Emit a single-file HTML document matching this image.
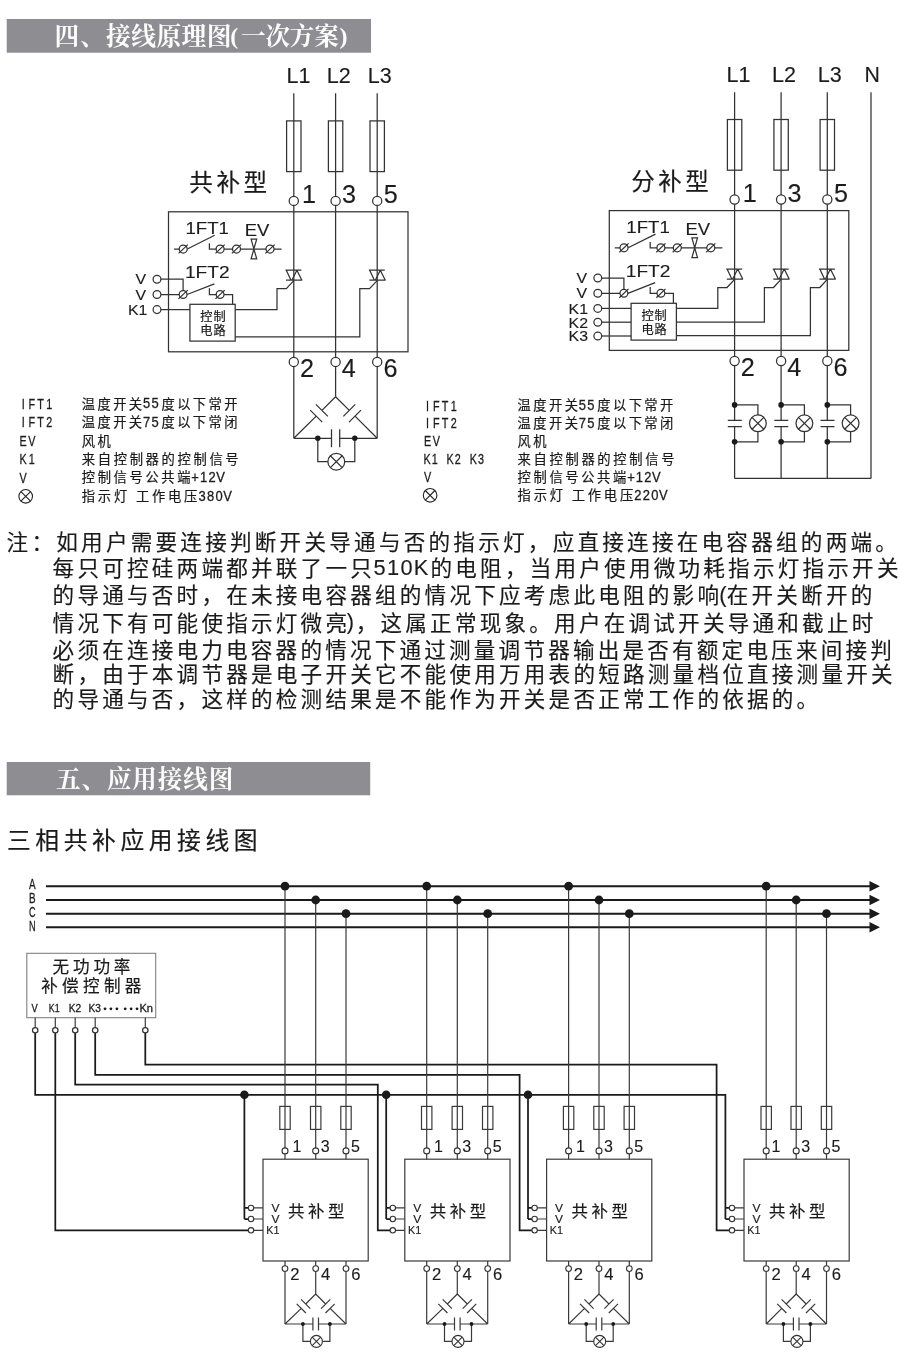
<!DOCTYPE html>
<html lang="zh-CN"><head><meta charset="utf-8"><title>接线原理图与应用接线图</title>
<style>
html,body{margin:0;padding:0;background:#fff}
body{width:900px;height:1361px;overflow:hidden;font-family:"Liberation Sans",sans-serif}
svg{display:block;will-change:transform}
text{font-family:"Liberation Sans",sans-serif}
.t{fill:#1c1c1c;stroke:#1c1c1c;stroke-width:.14}
.tb{fill:#1c1c1c;stroke:#1c1c1c;stroke-width:.3}
.hb{fill:#fdfdfd;font-family:"Liberation Serif",serif;font-weight:bold}
.hc{fill:#fdfdfd;font-family:"Liberation Serif","Noto Serif CJK SC",serif;font-weight:bold}
.cj{fill:#1a1a1a;stroke:#1a1a1a;stroke-width:.2;font-family:"Liberation Sans","Noto Sans CJK SC",sans-serif}
.cp{fill:#1a1a1a;stroke:#1a1a1a;stroke-width:.15;font-family:"Liberation Sans","Noto Sans CJK SC",sans-serif}
.l{fill:none;stroke:#333;stroke-width:1.25}
.o{fill:#fff;stroke:#333;stroke-width:1.25}
.o2{fill:#fff;stroke:#222;stroke-width:1.1}
.n{fill:none;stroke:#333;stroke-width:1.25}
.d{fill:#1a1a1a;stroke:none}
.b{fill:none;stroke:#1a1a1a;stroke-width:1.9}
.c{fill:none;stroke:#1a1a1a;stroke-width:1.75}
.g{fill:none;stroke:#3a3a3a;stroke-width:1.2}
.gn{fill:none;stroke:#3a3a3a;stroke-width:1.2}
.go{fill:#fff;stroke:#333;stroke-width:1.1}
.gb{fill:none;stroke:#808080;stroke-width:1.1}
</style></head>
<body>
<svg width="900" height="1361" viewBox="0 0 900 1361" role="img" aria-labelledby="ttl dsc">
<title id="ttl">四、接线原理图(一次方案) / 五、应用接线图</title>
<desc id="dsc">四、接线原理图(一次方案)。共补型：L1 L2 L3，端子 1 3 5 / 2 4 6，1FT1，1FT2，EV，V，V，K1，控制电路。分补型：L1 L2 L3 N，端子 1 3 5 / 2 4 6，1FT1，1FT2，EV，V，V，K1，K2，K3，控制电路。IFT1 温度开关55度以下常开；IFT2 温度开关75度以下常闭；EV 风机；K1 (K1 K2 K3) 来自控制器的控制信号；V 控制信号公共端+12V；⊗ 指示灯 工作电压380V / 220V。注：如用户需要连接判断开关导通与否的指示灯，应直接连接在电容器组的两端。每只可控硅两端都并联了一只510K的电阻，当用户使用微功耗指示灯指示开关的导通与否时，在未接电容器组的情况下应考虑此电阻的影响(在开关断开的情况下有可能使指示灯微亮)，这属正常现象。用户在调试开关导通和截止时必须在连接电力电容器的情况下通过测量调节器输出是否有额定电压来间接判断，由于本调节器是电子开关它不能使用万用表的短路测量档位直接测量开关的导通与否，这样的检测结果是不能作为开关是否正常工作的依据的。 五、应用接线图。三相共补应用接线图：A B C N 母线，无功功率补偿控制器 V K1 K2 K3 …… Kn，四台共补型装置 (V V K1，1 3 5，2 4 6)。</desc>
<rect x="6.7" y="19" width="364.3" height="33.7" fill="#8e8e92"/>
<rect x="6.7" y="762" width="363.5" height="33.3" fill="#8e8e92"/>
<text class="hc" x="54.6" y="44.8" font-size="24.8" textLength="50.4" lengthAdjust="spacing">四、</text>
<text class="hc" x="106" y="44.8" font-size="24.8" textLength="125.6" lengthAdjust="spacing">接线原理图</text>
<text class="hb" x="230.2" y="44.2" font-size="24">(</text>
<text class="hc" x="241" y="44.6" font-size="24.5" textLength="97.7" lengthAdjust="spacing">一次方案</text>
<text class="hb" x="339.5" y="44.2" font-size="24">)</text>
<text class="hc" x="56" y="787.6" font-size="24.6" textLength="177.3" lengthAdjust="spacing">五、应用接线图</text>
<path class="l" d="M293.8 93.3V438.3M377.2 93.3V438.3M335.6 93.3V396.7"/>
<rect class="n" x="286.6" y="120.9" width="14.4" height="50.7"/>
<circle class="o" cx="293.8" cy="200.9" r="4.6"/>
<circle class="o" cx="293.8" cy="361.9" r="4.6"/>
<rect class="n" x="328.4" y="120.9" width="14.4" height="50.7"/>
<circle class="o" cx="335.6" cy="200.9" r="4.6"/>
<circle class="o" cx="335.6" cy="361.9" r="4.6"/>
<rect class="n" x="370" y="120.9" width="14.4" height="50.7"/>
<circle class="o" cx="377.2" cy="200.9" r="4.6"/>
<circle class="o" cx="377.2" cy="361.9" r="4.6"/>
<rect class="n" x="168.5" y="211.8" width="239.5" height="140"/>
<path class="l" d="M174 249H179.2M187.3 249L214.7 235.3M209.4 243.3V249H281.6"/>
<circle class="o" cx="183.2" cy="249" r="4"/>
<path class="l" d="M178.6 253.4L187.8 244.6"/>
<circle class="o" cx="220.1" cy="249" r="4"/>
<path class="l" d="M215.5 253.4L224.7 244.6"/>
<circle class="o" cx="236.5" cy="249" r="4"/>
<path class="l" d="M231.9 253.4L241.1 244.6"/>
<circle class="o" cx="270" cy="249" r="4"/>
<path class="l" d="M265.4 253.4L274.6 244.6"/>
<path class="o" d="M251.1 239.1H256.7L251.1 258.9H256.7Z"/>
<path class="l" d="M161 279.2H183.1V290.5M161 294.5H179.2M187.1 294.5L214.4 283.9M209.4 288.3V294.5H232.6V304.3"/>
<circle class="o" cx="183.1" cy="294.5" r="3.9"/>
<path class="l" d="M178.5 298.9L187.7 290.1"/>
<circle class="o" cx="220.1" cy="294.5" r="3.9"/>
<path class="l" d="M215.5 298.9L224.7 290.1"/>
<circle class="o" cx="157" cy="279.2" r="3.9"/>
<circle class="o" cx="157" cy="294.5" r="3.9"/>
<text class="t" x="185.5" y="233.7" font-size="16.2" textLength="43.5" lengthAdjust="spacingAndGlyphs">1FT1</text>
<text class="t" x="244.7" y="235.7" font-size="16.4" textLength="24.6" lengthAdjust="spacingAndGlyphs">EV</text>
<text class="t" x="185" y="278" font-size="16.2" textLength="44.6" lengthAdjust="spacingAndGlyphs">1FT2</text>
<text class="t" x="135.6" y="284.2" font-size="14.4" textLength="10.6" lengthAdjust="spacingAndGlyphs">V</text>
<text class="t" x="135.6" y="299.5" font-size="14.4" textLength="10.6" lengthAdjust="spacingAndGlyphs">V</text>
<path class="l" d="M161 309.6H189.9"/>
<circle class="o" cx="157" cy="309.6" r="3.9"/>
<text class="t" x="128" y="315" font-size="14.4" textLength="19.4" lengthAdjust="spacingAndGlyphs">K1</text>
<rect class="n" x="189.9" y="304.3" width="45.3" height="36.8"/>
<text class="cj" x="200.2" y="321" font-size="12.2" textLength="25.4" lengthAdjust="spacing">控制</text>
<text class="cj" x="200.2" y="335" font-size="12.2" textLength="25.4" lengthAdjust="spacing">电路</text>
<path class="l" d="M235.2 309.6H277V288.7H286.3L293.8 280.6M235.2 336.9H359.8V288.7H369.5L377.2 280.6"/>
<path class="l" d="M285.5 270.2H301.4M286 280.2H302.3M286.3 270.2L291 280.2M291.9 280.2L296.9 270.2L301.9 280.2" stroke-linejoin="bevel"/>
<path class="l" d="M368.9 270.2H384.8M369.4 280.2H385.7M369.7 270.2L374.4 280.2M375.3 280.2L380.3 270.2L385.3 280.2" stroke-linejoin="bevel"/>
<text class="t" x="286.4" y="82.6" font-size="21.8" textLength="24" lengthAdjust="spacingAndGlyphs">L1</text>
<text class="t" x="302" y="202.9" font-size="25.2">1</text>
<text class="t" x="300" y="377" font-size="25.2">2</text>
<text class="t" x="326.8" y="82.6" font-size="21.8" textLength="24" lengthAdjust="spacingAndGlyphs">L2</text>
<text class="t" x="342" y="202.9" font-size="25.2">3</text>
<text class="t" x="341.8" y="377" font-size="25.2">4</text>
<text class="t" x="367.8" y="82.6" font-size="21.8" textLength="24" lengthAdjust="spacingAndGlyphs">L3</text>
<text class="t" x="383.8" y="202.9" font-size="25.2">5</text>
<text class="t" x="383.4" y="377" font-size="25.2">6</text>
<text class="cj" x="189.3" y="190.5" font-size="23.6" textLength="77.8" lengthAdjust="spacing">共补型</text>
<path class="l" d="M335.6 396.7L321.9 410.4M315.9 404.4L327.9 416.4M310.2 410.1L322.2 422.1M316.2 416.1L293.8 438.3M335.6 396.7L349.3 410.4M343.3 416.4L355.3 404.4M349 422.1L361 410.1M355 416.1L377.2 438.3M293.8 438.3H331.5M339.7 438.3H377.2M331.5 429.3V447.3M339.7 429.3V447.3M317.8 438.3V461.7H327.9M354.8 438.3V461.7H344.7"/>
<circle class="d" cx="317.8" cy="438.3" r="2.7"/>
<circle class="d" cx="354.8" cy="438.3" r="2.7"/>
<circle class="o" cx="336.3" cy="461.7" r="8.4"/>
<path class="l" d="M330.36 455.76L342.24 467.64M330.36 467.64L342.24 455.76"/>
<path class="l" d="M734.6 92.3V420.4M734.6 426.7V478.4M781.1 92.3V420.4M781.1 426.7V478.4M827.3 92.3V420.4M827.3 426.7V478.4M871 92.3V478.4M734.6 478.4H871"/>
<rect class="n" x="727.4" y="119.5" width="14.4" height="50.7"/>
<circle class="o" cx="734.6" cy="199.5" r="4.6"/>
<circle class="o" cx="734.6" cy="361" r="4.6"/>
<rect class="n" x="773.9" y="119.5" width="14.4" height="50.7"/>
<circle class="o" cx="781.1" cy="199.5" r="4.6"/>
<circle class="o" cx="781.1" cy="361" r="4.6"/>
<rect class="n" x="820.1" y="119.5" width="14.4" height="50.7"/>
<circle class="o" cx="827.3" cy="199.5" r="4.6"/>
<circle class="o" cx="827.3" cy="361" r="4.6"/>
<rect class="n" x="609.3" y="210.6" width="239.5" height="139.8"/>
<path class="l" d="M614.8 247.8H620M628.1 247.8L655.5 234.1M650.2 242.1V247.8H722.4"/>
<circle class="o" cx="624" cy="247.8" r="4"/>
<path class="l" d="M619.4 252.2L628.6 243.4"/>
<circle class="o" cx="660.9" cy="247.8" r="4"/>
<path class="l" d="M656.3 252.2L665.5 243.4"/>
<circle class="o" cx="677.3" cy="247.8" r="4"/>
<path class="l" d="M672.7 252.2L681.9 243.4"/>
<circle class="o" cx="710.8" cy="247.8" r="4"/>
<path class="l" d="M706.2 252.2L715.4 243.4"/>
<path class="o" d="M691.9 237.9H697.5L691.9 257.7H697.5Z"/>
<path class="l" d="M601.8 278H623.9V289.3M601.8 293.3H620M627.9 293.3L655.2 282.7M650.2 287.1V293.3H673.4V303.1"/>
<circle class="o" cx="623.9" cy="293.3" r="3.9"/>
<path class="l" d="M619.3 297.7L628.5 288.9"/>
<circle class="o" cx="660.9" cy="293.3" r="3.9"/>
<path class="l" d="M656.3 297.7L665.5 288.9"/>
<circle class="o" cx="597.8" cy="278" r="3.9"/>
<circle class="o" cx="597.8" cy="293.3" r="3.9"/>
<text class="t" x="626.3" y="232.5" font-size="16.2" textLength="43.5" lengthAdjust="spacingAndGlyphs">1FT1</text>
<text class="t" x="685.5" y="234.5" font-size="16.4" textLength="24.6" lengthAdjust="spacingAndGlyphs">EV</text>
<text class="t" x="625.8" y="276.8" font-size="16.2" textLength="44.6" lengthAdjust="spacingAndGlyphs">1FT2</text>
<text class="t" x="576.4" y="283" font-size="14.4" textLength="10.6" lengthAdjust="spacingAndGlyphs">V</text>
<text class="t" x="576.4" y="298.3" font-size="14.4" textLength="10.6" lengthAdjust="spacingAndGlyphs">V</text>
<path class="l" d="M601.7 308.4H631.1"/>
<circle class="o" cx="597.8" cy="308.4" r="3.9"/>
<text class="t" x="568.6" y="313.8" font-size="14.4" textLength="19.4" lengthAdjust="spacingAndGlyphs">K1</text>
<path class="l" d="M601.7 322.2H631.1"/>
<circle class="o" cx="597.8" cy="322.2" r="3.9"/>
<text class="t" x="568.6" y="327.6" font-size="14.4" textLength="19.4" lengthAdjust="spacingAndGlyphs">K2</text>
<path class="l" d="M601.7 336H631.1"/>
<circle class="o" cx="597.8" cy="336" r="3.9"/>
<text class="t" x="568.6" y="341.4" font-size="14.4" textLength="19.4" lengthAdjust="spacingAndGlyphs">K3</text>
<rect class="n" x="631.1" y="303.3" width="45.3" height="36.8"/>
<text class="cj" x="641.4" y="319.9" font-size="12.2" textLength="25.4" lengthAdjust="spacing">控制</text>
<text class="cj" x="641.4" y="333.9" font-size="12.2" textLength="25.4" lengthAdjust="spacing">电路</text>
<path class="l" d="M676.4 308.4H717.8V287.5H727L734.6 279.4M676.4 322.2H764.4V287.5H773.5L781.1 279.4M676.4 335.5H810.4V287.5H819.8L827.3 279.4"/>
<path class="l" d="M726.3 269H742.2M726.8 279H743.1M727.1 269L731.8 279M732.7 279L737.7 269L742.7 279" stroke-linejoin="bevel"/>
<path class="l" d="M772.8 269H788.7M773.3 279H789.6M773.6 269L778.3 279M779.2 279L784.2 269L789.2 279" stroke-linejoin="bevel"/>
<path class="l" d="M819 269H834.9M819.5 279H835.8M819.8 269L824.5 279M825.4 279L830.4 269L835.4 279" stroke-linejoin="bevel"/>
<text class="t" x="726.6" y="81.8" font-size="21.8" textLength="24" lengthAdjust="spacingAndGlyphs">L1</text>
<text class="t" x="742.8" y="201.8" font-size="25.2">1</text>
<text class="t" x="740.8" y="375.8" font-size="25.2">2</text>
<text class="t" x="772" y="81.8" font-size="21.8" textLength="24" lengthAdjust="spacingAndGlyphs">L2</text>
<text class="t" x="787.5" y="201.8" font-size="25.2">3</text>
<text class="t" x="787.3" y="375.8" font-size="25.2">4</text>
<text class="t" x="817.8" y="81.8" font-size="21.8" textLength="24" lengthAdjust="spacingAndGlyphs">L3</text>
<text class="t" x="833.9" y="201.8" font-size="25.2">5</text>
<text class="t" x="833.5" y="375.8" font-size="25.2">6</text>
<text class="t" x="864.6" y="81.8" font-size="21.8" textLength="15.4" lengthAdjust="spacingAndGlyphs">N</text>
<text class="cj" x="631.2" y="189.8" font-size="23.5" textLength="77.5" lengthAdjust="spacing">分补型</text>
<path class="l" d="M727.8 420.4H741.8M727.8 426.7H741.8M734.6 404.9H757.9V414.9M734.6 441.8H757.9V431.7"/>
<circle class="d" cx="734.6" cy="404.9" r="2.8"/>
<circle class="d" cx="734.6" cy="441.8" r="2.8"/>
<circle class="o" cx="757.9" cy="423.3" r="8.4"/>
<path class="l" d="M751.96 417.36L763.84 429.24M751.96 429.24L763.84 417.36"/>
<path class="l" d="M774.3 420.4H788.3M774.3 426.7H788.3M781.1 404.9H804.4V414.9M781.1 441.8H804.4V431.7"/>
<circle class="d" cx="781.1" cy="404.9" r="2.8"/>
<circle class="d" cx="781.1" cy="441.8" r="2.8"/>
<circle class="o" cx="804.4" cy="423.3" r="8.4"/>
<path class="l" d="M798.46 417.36L810.34 429.24M798.46 429.24L810.34 417.36"/>
<path class="l" d="M820.5 420.4H834.5M820.5 426.7H834.5M827.3 404.9H850.6V414.9M827.3 441.8H850.6V431.7"/>
<circle class="d" cx="827.3" cy="404.9" r="2.8"/>
<circle class="d" cx="827.3" cy="441.8" r="2.8"/>
<circle class="o" cx="850.6" cy="423.3" r="8.4"/>
<path class="l" d="M844.66 417.36L856.54 429.24M844.66 429.24L856.54 417.36"/>
<text class="tb" font-size="14.4" text-anchor="middle" transform="translate(23.15 408.8) scale(0.75 1)">I</text>
<text class="tb" font-size="14.4" text-anchor="middle" transform="translate(31.85 408.8) scale(0.75 1)">F</text>
<text class="tb" font-size="14.4" text-anchor="middle" transform="translate(40.55 408.8) scale(0.75 1)">T</text>
<text class="tb" font-size="14.4" text-anchor="middle" transform="translate(49.25 408.8) scale(0.75 1)">1</text>
<text class="tb" font-size="14.4" text-anchor="middle" transform="translate(23.15 427.25) scale(0.75 1)">I</text>
<text class="tb" font-size="14.4" text-anchor="middle" transform="translate(31.85 427.25) scale(0.75 1)">F</text>
<text class="tb" font-size="14.4" text-anchor="middle" transform="translate(40.55 427.25) scale(0.75 1)">T</text>
<text class="tb" font-size="14.4" text-anchor="middle" transform="translate(49.25 427.25) scale(0.75 1)">2</text>
<text class="tb" font-size="14.4" text-anchor="middle" transform="translate(23.15 445.7) scale(0.75 1)">E</text>
<text class="tb" font-size="14.4" text-anchor="middle" transform="translate(31.85 445.7) scale(0.75 1)">V</text>
<text class="tb" font-size="14.4" text-anchor="middle" transform="translate(23.15 464.15) scale(0.75 1)">K</text>
<text class="tb" font-size="14.4" text-anchor="middle" transform="translate(31.85 464.15) scale(0.75 1)">1</text>
<text class="tb" font-size="14.4" text-anchor="middle" transform="translate(23.15 482.6) scale(0.75 1)">V</text>
<circle class="o2" cx="25.7" cy="496.35" r="6.8"/>
<path class="o2" d="M20.89 491.54L30.51 501.16M20.89 501.16L30.51 491.54"/>
<text class="tb" font-size="14.4" text-anchor="middle" transform="translate(146.59 408.4) scale(0.9 1)">5</text>
<text class="tb" font-size="14.4" text-anchor="middle" transform="translate(155.03 408.4) scale(0.9 1)">5</text>
<text class="cj" x="81.8" y="408.6" font-size="13.3" textLength="60.37" lengthAdjust="spacing">温度开关</text>
<text class="cj" x="161.46" y="408.6" font-size="13.3" textLength="76.06" lengthAdjust="spacing">度以下常开</text>
<text class="tb" font-size="14.4" text-anchor="middle" transform="translate(146.59 426.85) scale(0.9 1)">7</text>
<text class="tb" font-size="14.4" text-anchor="middle" transform="translate(155.03 426.85) scale(0.9 1)">5</text>
<text class="cj" x="81.8" y="427.05" font-size="13.3" textLength="60.37" lengthAdjust="spacing">温度开关</text>
<text class="cj" x="161.46" y="427.05" font-size="13.3" textLength="76.06" lengthAdjust="spacing">度以下常闭</text>
<text class="cj" x="81.8" y="445.5" font-size="13.3" textLength="28.92" lengthAdjust="spacing">风机</text>
<text class="cj" x="81.8" y="463.95" font-size="13.3" textLength="156.85" lengthAdjust="spacing">来自控制器的控制信号</text>
<text class="tb" font-size="14.4" text-anchor="middle" transform="translate(195.13 482.2) scale(0.9 1)">+</text>
<text class="tb" font-size="14.4" text-anchor="middle" transform="translate(203.58 482.2) scale(0.9 1)">1</text>
<text class="tb" font-size="14.4" text-anchor="middle" transform="translate(212.03 482.2) scale(0.9 1)">2</text>
<text class="tb" font-size="14.4" text-anchor="middle" transform="translate(220.47 482.2) scale(0.9 1)">V</text>
<text class="cj" x="81.8" y="482.4" font-size="13.3" textLength="108.7" lengthAdjust="spacing">控制信号公共端</text>
<text class="tb" font-size="14.4" text-anchor="middle" transform="translate(202.18 500.65) scale(0.9 1)">3</text>
<text class="tb" font-size="14.4" text-anchor="middle" transform="translate(210.63 500.65) scale(0.9 1)">8</text>
<text class="tb" font-size="14.4" text-anchor="middle" transform="translate(219.08 500.65) scale(0.9 1)">0</text>
<text class="tb" font-size="14.4" text-anchor="middle" transform="translate(227.53 500.65) scale(0.9 1)">V</text>
<text class="cj" x="81.8" y="500.85" font-size="13.3" textLength="45.4" lengthAdjust="spacing">指示灯</text>
<text class="cj" x="135.95" y="500.85" font-size="13.3" textLength="61.45" lengthAdjust="spacing">工作电压</text>
<text class="tb" font-size="14.4" text-anchor="middle" transform="translate(427.55 410.5) scale(0.75 1)">I</text>
<text class="tb" font-size="14.4" text-anchor="middle" transform="translate(436.25 410.5) scale(0.75 1)">F</text>
<text class="tb" font-size="14.4" text-anchor="middle" transform="translate(444.95 410.5) scale(0.75 1)">T</text>
<text class="tb" font-size="14.4" text-anchor="middle" transform="translate(453.65 410.5) scale(0.75 1)">1</text>
<text class="tb" font-size="14.4" text-anchor="middle" transform="translate(427.55 428.4) scale(0.75 1)">I</text>
<text class="tb" font-size="14.4" text-anchor="middle" transform="translate(436.25 428.4) scale(0.75 1)">F</text>
<text class="tb" font-size="14.4" text-anchor="middle" transform="translate(444.95 428.4) scale(0.75 1)">T</text>
<text class="tb" font-size="14.4" text-anchor="middle" transform="translate(453.65 428.4) scale(0.75 1)">2</text>
<text class="tb" font-size="14.4" text-anchor="middle" transform="translate(427.55 446.3) scale(0.75 1)">E</text>
<text class="tb" font-size="14.4" text-anchor="middle" transform="translate(436.25 446.3) scale(0.75 1)">V</text>
<text class="tb" font-size="14.4" text-anchor="middle" transform="translate(427.05 464.2) scale(0.75 1)">K</text>
<text class="tb" font-size="14.4" text-anchor="middle" transform="translate(434.75 464.2) scale(0.75 1)">1</text>
<text class="tb" font-size="14.4" text-anchor="middle" transform="translate(450.15 464.2) scale(0.75 1)">K</text>
<text class="tb" font-size="14.4" text-anchor="middle" transform="translate(457.85 464.2) scale(0.75 1)">2</text>
<text class="tb" font-size="14.4" text-anchor="middle" transform="translate(473.25 464.2) scale(0.75 1)">K</text>
<text class="tb" font-size="14.4" text-anchor="middle" transform="translate(480.95 464.2) scale(0.75 1)">3</text>
<text class="tb" font-size="14.4" text-anchor="middle" transform="translate(427.55 482.1) scale(0.75 1)">V</text>
<circle class="o2" cx="430.1" cy="495.3" r="6.8"/>
<path class="o2" d="M425.29 490.49L434.91 500.11M425.29 500.11L434.91 490.49"/>
<text class="tb" font-size="14.4" text-anchor="middle" transform="translate(582.39 410.1) scale(0.9 1)">5</text>
<text class="tb" font-size="14.4" text-anchor="middle" transform="translate(590.84 410.1) scale(0.9 1)">5</text>
<text class="cj" x="517.6" y="410.3" font-size="13.3" textLength="60.37" lengthAdjust="spacing">温度开关</text>
<text class="cj" x="597.26" y="410.3" font-size="13.3" textLength="76.06" lengthAdjust="spacing">度以下常开</text>
<text class="tb" font-size="14.4" text-anchor="middle" transform="translate(582.39 428) scale(0.9 1)">7</text>
<text class="tb" font-size="14.4" text-anchor="middle" transform="translate(590.84 428) scale(0.9 1)">5</text>
<text class="cj" x="517.6" y="428.2" font-size="13.3" textLength="60.37" lengthAdjust="spacing">温度开关</text>
<text class="cj" x="597.26" y="428.2" font-size="13.3" textLength="76.06" lengthAdjust="spacing">度以下常闭</text>
<text class="cj" x="517.6" y="446.1" font-size="13.3" textLength="28.92" lengthAdjust="spacing">风机</text>
<text class="cj" x="517.6" y="464" font-size="13.3" textLength="156.85" lengthAdjust="spacing">来自控制器的控制信号</text>
<text class="tb" font-size="14.4" text-anchor="middle" transform="translate(630.92 481.7) scale(0.9 1)">+</text>
<text class="tb" font-size="14.4" text-anchor="middle" transform="translate(639.37 481.7) scale(0.9 1)">1</text>
<text class="tb" font-size="14.4" text-anchor="middle" transform="translate(647.82 481.7) scale(0.9 1)">2</text>
<text class="tb" font-size="14.4" text-anchor="middle" transform="translate(656.27 481.7) scale(0.9 1)">V</text>
<text class="cj" x="517.6" y="481.9" font-size="13.3" textLength="108.7" lengthAdjust="spacing">控制信号公共端</text>
<text class="tb" font-size="14.4" text-anchor="middle" transform="translate(637.97 499.6) scale(0.9 1)">2</text>
<text class="tb" font-size="14.4" text-anchor="middle" transform="translate(646.42 499.6) scale(0.9 1)">2</text>
<text class="tb" font-size="14.4" text-anchor="middle" transform="translate(654.87 499.6) scale(0.9 1)">0</text>
<text class="tb" font-size="14.4" text-anchor="middle" transform="translate(663.32 499.6) scale(0.9 1)">V</text>
<text class="cj" x="517.6" y="499.8" font-size="13.3" textLength="45.4" lengthAdjust="spacing">指示灯</text>
<text class="cj" x="571.75" y="499.8" font-size="13.3" textLength="61.45" lengthAdjust="spacing">工作电压</text>
<text class="cp" x="6.6" y="550.3" font-size="21.6" textLength="890.3" lengthAdjust="spacing">注：如用户需要连接判断开关导通与否的指示灯，应直接连接在电容器组的两端。</text>
<text class="t" x="373.6" y="575.2" font-size="21.8">5</text>
<text class="t" x="387" y="575.2" font-size="21.8">1</text>
<text class="t" x="400.4" y="575.2" font-size="21.8">0</text>
<text class="t" x="413.8" y="575.2" font-size="21.8">K</text>
<text class="cp" x="52.6" y="576.3" font-size="21.6" textLength="319.2" lengthAdjust="spacing">每只可控硅两端都并联了一只</text>
<text class="cp" x="430.5" y="576.3" font-size="21.6" textLength="468" lengthAdjust="spacing">的电阻，当用户使用微功耗指示灯指示开关</text>
<text class="t" x="719.2" y="602.1" font-size="21.8">(</text>
<text class="cp" x="52.6" y="603.2" font-size="21.6" textLength="666.4" lengthAdjust="spacing">的导通与否时，在未接电容器组的情况下应考虑此电阻的影响</text>
<text class="cp" x="726.7" y="603.2" font-size="21.6" textLength="145.6" lengthAdjust="spacing">在开关断开的</text>
<text class="t" x="346.8" y="629.4" font-size="21.8">)</text>
<text class="cp" x="52.6" y="630.5" font-size="21.6" textLength="294.4" lengthAdjust="spacing">情况下有可能使指示灯微亮</text>
<text class="cp" x="355.7" y="630.5" font-size="21.6" textLength="517.6" lengthAdjust="spacing">，这属正常现象。用户在调试开关导通和截止时</text>
<text class="cp" x="52.6" y="657.5" font-size="21.6" textLength="839.3" lengthAdjust="spacing">必须在连接电力电容器的情况下通过测量调节器输出是否有额定电压来间接判</text>
<text class="cp" x="52.6" y="682.2" font-size="21.6" textLength="840" lengthAdjust="spacing">断，由于本调节器是电子开关它不能使用万用表的短路测量档位直接测量开关</text>
<text class="cp" x="52.6" y="706.7" font-size="21.6" textLength="765.6" lengthAdjust="spacing">的导通与否，这样的检测结果是不能作为开关是否正常工作的依据的。</text>
<text class="cj" x="7" y="848.6" font-size="23.8" textLength="250.6" lengthAdjust="spacing">三相共补应用接线图</text>
<path class="b" d="M46 886.2H871M46 900H871M46 913.7H871M46 927.3H871"/>
<path class="d" d="M880 886.2L869.5 881V891.4Z"/>
<path class="d" d="M880 900L869.5 894.8V905.2Z"/>
<path class="d" d="M880 913.7L869.5 908.5V918.9Z"/>
<path class="d" d="M880 927.3L869.5 922.1V932.5Z"/>
<text class="tb" x="29" y="889.4" font-size="14.6" textLength="6.6" lengthAdjust="spacingAndGlyphs">A</text>
<text class="tb" x="29" y="903.2" font-size="14.6" textLength="6.6" lengthAdjust="spacingAndGlyphs">B</text>
<text class="tb" x="29" y="916.9" font-size="14.6" textLength="6.6" lengthAdjust="spacingAndGlyphs">C</text>
<text class="tb" x="29" y="930.5" font-size="14.6" textLength="6.6" lengthAdjust="spacingAndGlyphs">N</text>
<rect class="gb" x="26.8" y="953.3" width="128.9" height="64.4"/>
<text class="cj" x="52.6" y="973.2" font-size="16.6" textLength="77.8" lengthAdjust="spacing">无功功率</text>
<text class="cj" x="41.2" y="992.2" font-size="16.6" textLength="100.2" lengthAdjust="spacing">补偿控制器</text>
<text class="tb" x="31.6" y="1011.5" font-size="10.4" textLength="6.2" lengthAdjust="spacingAndGlyphs">V</text>
<text class="tb" x="48.8" y="1011.5" font-size="10.4" textLength="10.8" lengthAdjust="spacingAndGlyphs">K1</text>
<text class="tb" x="68.8" y="1011.5" font-size="10.4" textLength="12.4" lengthAdjust="spacingAndGlyphs">K2</text>
<text class="tb" x="88.6" y="1011.5" font-size="10.4" textLength="12.4" lengthAdjust="spacingAndGlyphs">K3</text>
<text class="tb" x="139.4" y="1011.5" font-size="10.4" textLength="13.6" lengthAdjust="spacingAndGlyphs">Kn</text>
<circle class="d" cx="105" cy="1008.8" r="1.4"/>
<circle class="d" cx="110.9" cy="1008.8" r="1.4"/>
<circle class="d" cx="116.9" cy="1008.8" r="1.4"/>
<circle class="d" cx="125.2" cy="1008.8" r="1.4"/>
<circle class="d" cx="131.1" cy="1008.8" r="1.4"/>
<circle class="d" cx="137" cy="1008.8" r="1.4"/>
<path class="c" d="M35.2 1033V1094.8H725.4V1219M244.4 1094.8V1219M386.2 1094.8V1219M528 1094.8V1219M244.4 1207.9H248.3M244.4 1219H248.3M386.2 1207.9H390.1M386.2 1219H390.1M528 1207.9H531.9M528 1219H531.9M725.4 1207.9H729.3M725.4 1219H729.3M55.3 1033V1230.3H248.3M75.2 1033V1084.6H377.8V1230.3H390.1M95.2 1033V1074.8H519.6V1230.3H531.9M145.3 1033V1064.7H716.6V1230.3H729.3"/>
<circle class="d" cx="244.4" cy="1094.8" r="4.3"/>
<circle class="d" cx="386.2" cy="1094.8" r="4.3"/>
<circle class="d" cx="528" cy="1094.8" r="4.3"/>
<path class="g" d="M35.2 1017.7V1027.2M55.3 1017.7V1027.2M75.2 1017.7V1027.2M95.2 1017.7V1027.2M145.3 1017.7V1027.2"/>
<circle class="o" cx="35.2" cy="1030.2" r="2.7"/>
<circle class="o" cx="55.3" cy="1030.2" r="2.7"/>
<circle class="o" cx="75.2" cy="1030.2" r="2.7"/>
<circle class="o" cx="95.2" cy="1030.2" r="2.7"/>
<circle class="o" cx="145.3" cy="1030.2" r="2.7"/>
<path class="g" d="M285 886.2V1159.2M285 1261V1324M315.7 900V1159.2M315.7 1261V1294M346 913.7V1159.2M346 1261V1324M253.8 1207.9H263M253.8 1219H263M253.8 1230.3H263"/>
<circle class="d" cx="285" cy="886.2" r="4.4"/>
<rect class="gn" x="279.8" y="1106.4" width="10.4" height="23"/>
<circle class="go" cx="285" cy="1150.9" r="3"/>
<circle class="go" cx="285" cy="1268.6" r="2.85"/>
<text class="t" x="292.4" y="1152.2" font-size="16">1</text>
<text class="t" x="290.2" y="1279.6" font-size="16.6">2</text>
<circle class="d" cx="315.7" cy="900" r="4.4"/>
<rect class="gn" x="310.5" y="1106.4" width="10.4" height="23"/>
<circle class="go" cx="315.7" cy="1150.9" r="3"/>
<circle class="go" cx="315.7" cy="1268.6" r="2.85"/>
<text class="t" x="320.7" y="1152.2" font-size="16">3</text>
<text class="t" x="320.9" y="1279.6" font-size="16.6">4</text>
<circle class="d" cx="346" cy="913.7" r="4.4"/>
<rect class="gn" x="340.8" y="1106.4" width="10.4" height="23"/>
<circle class="go" cx="346" cy="1150.9" r="3"/>
<circle class="go" cx="346" cy="1268.6" r="2.85"/>
<text class="t" x="351" y="1152.2" font-size="16">5</text>
<text class="t" x="351.2" y="1279.6" font-size="16.6">6</text>
<rect class="gn" x="263" y="1159.2" width="105.2" height="101.8"/>
<circle class="go" cx="251" cy="1207.9" r="2.7"/>
<circle class="go" cx="251" cy="1219" r="2.7"/>
<circle class="go" cx="251" cy="1230.3" r="2.7"/>
<text class="t" x="271.4" y="1211.6" font-size="10" textLength="8" lengthAdjust="spacingAndGlyphs">V</text>
<text class="t" x="271.4" y="1222.8" font-size="10" textLength="8" lengthAdjust="spacingAndGlyphs">V</text>
<text class="t" x="266.2" y="1234.4" font-size="11" textLength="13.2" lengthAdjust="spacingAndGlyphs">K1</text>
<text class="cj" x="288" y="1216.6" font-size="16.4" textLength="56.4" lengthAdjust="spacing">共补型</text>
<path class="g" d="M315.7 1294L305.7 1304M301.1 1299.4L310.3 1308.6M296.7 1303.8L305.9 1313M301.3 1308.4L285 1324M315.7 1294L325.7 1304M321.1 1308.6L330.3 1299.4M325.5 1313L334.7 1303.8M330.1 1308.4L346 1324M285 1324H312.9M318.5 1324H346M312.9 1317.4V1330.6M318.5 1317.4V1330.6M302.9 1324V1341.4H310.4M329.9 1324V1341.4H322.4"/>
<circle class="d" cx="302.9" cy="1324" r="1.9"/>
<circle class="d" cx="329.9" cy="1324" r="1.9"/>
<circle class="go" cx="316.4" cy="1341.4" r="6"/>
<path class="go" d="M312.16 1337.16L320.64 1345.64M312.16 1345.64L320.64 1337.16"/>
<path class="g" d="M426.7 886.2V1159.2M426.7 1261V1324M457.3 900V1159.2M457.3 1261V1294M487.7 913.7V1159.2M487.7 1261V1324M395.6 1207.9H404.8M395.6 1219H404.8M395.6 1230.3H404.8"/>
<circle class="d" cx="426.7" cy="886.2" r="4.4"/>
<rect class="gn" x="421.5" y="1106.4" width="10.4" height="23"/>
<circle class="go" cx="426.7" cy="1150.9" r="3"/>
<circle class="go" cx="426.7" cy="1268.6" r="2.85"/>
<text class="t" x="434.1" y="1152.2" font-size="16">1</text>
<text class="t" x="431.9" y="1279.6" font-size="16.6">2</text>
<circle class="d" cx="457.3" cy="900" r="4.4"/>
<rect class="gn" x="452.1" y="1106.4" width="10.4" height="23"/>
<circle class="go" cx="457.3" cy="1150.9" r="3"/>
<circle class="go" cx="457.3" cy="1268.6" r="2.85"/>
<text class="t" x="462.3" y="1152.2" font-size="16">3</text>
<text class="t" x="462.5" y="1279.6" font-size="16.6">4</text>
<circle class="d" cx="487.7" cy="913.7" r="4.4"/>
<rect class="gn" x="482.5" y="1106.4" width="10.4" height="23"/>
<circle class="go" cx="487.7" cy="1150.9" r="3"/>
<circle class="go" cx="487.7" cy="1268.6" r="2.85"/>
<text class="t" x="492.7" y="1152.2" font-size="16">5</text>
<text class="t" x="492.9" y="1279.6" font-size="16.6">6</text>
<rect class="gn" x="404.8" y="1159.2" width="105.2" height="101.8"/>
<circle class="go" cx="392.8" cy="1207.9" r="2.7"/>
<circle class="go" cx="392.8" cy="1219" r="2.7"/>
<circle class="go" cx="392.8" cy="1230.3" r="2.7"/>
<text class="t" x="413.2" y="1211.6" font-size="10" textLength="8" lengthAdjust="spacingAndGlyphs">V</text>
<text class="t" x="413.2" y="1222.8" font-size="10" textLength="8" lengthAdjust="spacingAndGlyphs">V</text>
<text class="t" x="408" y="1234.4" font-size="11" textLength="13.2" lengthAdjust="spacingAndGlyphs">K1</text>
<text class="cj" x="429.8" y="1216.6" font-size="16.4" textLength="56.4" lengthAdjust="spacing">共补型</text>
<path class="g" d="M457.3 1294L447.3 1304M442.7 1299.4L451.9 1308.6M438.3 1303.8L447.5 1313M442.9 1308.4L426.7 1324M457.3 1294L467.3 1304M462.7 1308.6L471.9 1299.4M467.1 1313L476.3 1303.8M471.7 1308.4L487.7 1324M426.7 1324H454.5M460.1 1324H487.7M454.5 1317.4V1330.6M460.1 1317.4V1330.6M444.5 1324V1341.4H452M471.5 1324V1341.4H464"/>
<circle class="d" cx="444.5" cy="1324" r="1.9"/>
<circle class="d" cx="471.5" cy="1324" r="1.9"/>
<circle class="go" cx="458" cy="1341.4" r="6"/>
<path class="go" d="M453.76 1337.16L462.24 1345.64M453.76 1345.64L462.24 1337.16"/>
<path class="g" d="M568.6 886.2V1159.2M568.6 1261V1324M599 900V1159.2M599 1261V1294M629.3 913.7V1159.2M629.3 1261V1324M537.4 1207.9H546.6M537.4 1219H546.6M537.4 1230.3H546.6"/>
<circle class="d" cx="568.6" cy="886.2" r="4.4"/>
<rect class="gn" x="563.4" y="1106.4" width="10.4" height="23"/>
<circle class="go" cx="568.6" cy="1150.9" r="3"/>
<circle class="go" cx="568.6" cy="1268.6" r="2.85"/>
<text class="t" x="576" y="1152.2" font-size="16">1</text>
<text class="t" x="573.8" y="1279.6" font-size="16.6">2</text>
<circle class="d" cx="599" cy="900" r="4.4"/>
<rect class="gn" x="593.8" y="1106.4" width="10.4" height="23"/>
<circle class="go" cx="599" cy="1150.9" r="3"/>
<circle class="go" cx="599" cy="1268.6" r="2.85"/>
<text class="t" x="604" y="1152.2" font-size="16">3</text>
<text class="t" x="604.2" y="1279.6" font-size="16.6">4</text>
<circle class="d" cx="629.3" cy="913.7" r="4.4"/>
<rect class="gn" x="624.1" y="1106.4" width="10.4" height="23"/>
<circle class="go" cx="629.3" cy="1150.9" r="3"/>
<circle class="go" cx="629.3" cy="1268.6" r="2.85"/>
<text class="t" x="634.3" y="1152.2" font-size="16">5</text>
<text class="t" x="634.5" y="1279.6" font-size="16.6">6</text>
<rect class="gn" x="546.6" y="1159.2" width="105.2" height="101.8"/>
<circle class="go" cx="534.6" cy="1207.9" r="2.7"/>
<circle class="go" cx="534.6" cy="1219" r="2.7"/>
<circle class="go" cx="534.6" cy="1230.3" r="2.7"/>
<text class="t" x="555" y="1211.6" font-size="10" textLength="8" lengthAdjust="spacingAndGlyphs">V</text>
<text class="t" x="555" y="1222.8" font-size="10" textLength="8" lengthAdjust="spacingAndGlyphs">V</text>
<text class="t" x="549.8" y="1234.4" font-size="11" textLength="13.2" lengthAdjust="spacingAndGlyphs">K1</text>
<text class="cj" x="571.6" y="1216.6" font-size="16.4" textLength="56.4" lengthAdjust="spacing">共补型</text>
<path class="g" d="M599 1294L589 1304M584.4 1299.4L593.6 1308.6M580 1303.8L589.2 1313M584.6 1308.4L568.6 1324M599 1294L609 1304M604.4 1308.6L613.6 1299.4M608.8 1313L618 1303.8M613.4 1308.4L629.3 1324M568.6 1324H596.2M601.8 1324H629.3M596.2 1317.4V1330.6M601.8 1317.4V1330.6M586.2 1324V1341.4H593.7M613.2 1324V1341.4H605.7"/>
<circle class="d" cx="586.2" cy="1324" r="1.9"/>
<circle class="d" cx="613.2" cy="1324" r="1.9"/>
<circle class="go" cx="599.7" cy="1341.4" r="6"/>
<path class="go" d="M595.46 1337.16L603.94 1345.64M595.46 1345.64L603.94 1337.16"/>
<path class="g" d="M766.2 886.2V1159.2M766.2 1261V1324M796.2 900V1159.2M796.2 1261V1294M826.5 913.7V1159.2M826.5 1261V1324M734.8 1207.9H744M734.8 1219H744M734.8 1230.3H744"/>
<circle class="d" cx="766.2" cy="886.2" r="4.4"/>
<rect class="gn" x="761" y="1106.4" width="10.4" height="23"/>
<circle class="go" cx="766.2" cy="1150.9" r="3"/>
<circle class="go" cx="766.2" cy="1268.6" r="2.85"/>
<text class="t" x="771.6" y="1152.2" font-size="16">1</text>
<text class="t" x="771.4" y="1279.6" font-size="16.6">2</text>
<circle class="d" cx="796.2" cy="900" r="4.4"/>
<rect class="gn" x="791" y="1106.4" width="10.4" height="23"/>
<circle class="go" cx="796.2" cy="1150.9" r="3"/>
<circle class="go" cx="796.2" cy="1268.6" r="2.85"/>
<text class="t" x="801.2" y="1152.2" font-size="16">3</text>
<text class="t" x="801.4" y="1279.6" font-size="16.6">4</text>
<circle class="d" cx="826.5" cy="913.7" r="4.4"/>
<rect class="gn" x="821.3" y="1106.4" width="10.4" height="23"/>
<circle class="go" cx="826.5" cy="1150.9" r="3"/>
<circle class="go" cx="826.5" cy="1268.6" r="2.85"/>
<text class="t" x="831.5" y="1152.2" font-size="16">5</text>
<text class="t" x="831.7" y="1279.6" font-size="16.6">6</text>
<rect class="gn" x="744" y="1159.2" width="105.2" height="101.8"/>
<circle class="go" cx="732" cy="1207.9" r="2.7"/>
<circle class="go" cx="732" cy="1219" r="2.7"/>
<circle class="go" cx="732" cy="1230.3" r="2.7"/>
<text class="t" x="752.4" y="1211.6" font-size="10" textLength="8" lengthAdjust="spacingAndGlyphs">V</text>
<text class="t" x="752.4" y="1222.8" font-size="10" textLength="8" lengthAdjust="spacingAndGlyphs">V</text>
<text class="t" x="747.2" y="1234.4" font-size="11" textLength="13.2" lengthAdjust="spacingAndGlyphs">K1</text>
<text class="cj" x="769" y="1216.6" font-size="16.4" textLength="56.4" lengthAdjust="spacing">共补型</text>
<path class="g" d="M796.2 1294L786.2 1304M781.6 1299.4L790.8 1308.6M777.2 1303.8L786.4 1313M781.8 1308.4L766.2 1324M796.2 1294L806.2 1304M801.6 1308.6L810.8 1299.4M806 1313L815.2 1303.8M810.6 1308.4L826.5 1324M766.2 1324H793.4M799 1324H826.5M793.4 1317.4V1330.6M799 1317.4V1330.6M783.4 1324V1341.4H790.9M810.4 1324V1341.4H802.9"/>
<circle class="d" cx="783.4" cy="1324" r="1.9"/>
<circle class="d" cx="810.4" cy="1324" r="1.9"/>
<circle class="go" cx="796.9" cy="1341.4" r="6"/>
<path class="go" d="M792.66 1337.16L801.14 1345.64M792.66 1345.64L801.14 1337.16"/>
</svg>
</body></html>
